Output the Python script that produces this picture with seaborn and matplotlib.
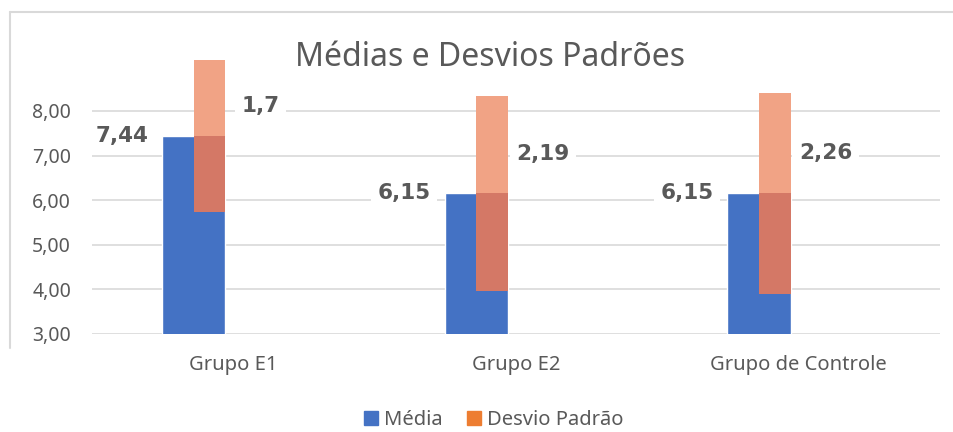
import matplotlib
matplotlib.use("Agg")
import matplotlib.pyplot as plt
from matplotlib.lines import Line2D
from matplotlib.patches import Patch
import numpy as np
import seaborn as sns

# values
grupos = ["Grupo E1", "Grupo E2", "Grupo de Controle"]
medias = [7.44, 6.15, 6.15]
desvios = [1.70, 2.19, 2.26]
rotulos_media = ["7,44", "6,15", "6,15"]
rotulos_desvio = ["1,7", "2,19", "2,26"]
y_ticks = [3, 4, 5, 6, 7, 8]
y_tick_labels = ["3,00", "4,00", "5,00", "6,00", "7,00", "8,00"]

AZUL = "#4472C4"
LARANJA = "#ED7D31"
LARANJA_CLARO = "#F1A385"
SOBREPOSTO = "#D47866"
CINZA = "#595959"
GRADE = "#D9D9D9"

sns.set_theme(style="white")
plt.rcParams["font.family"] = ["Noto Sans", "DejaVu Sans"]

fig = plt.figure(figsize=(9.54, 4.32), dpi=100)
ax = fig.add_axes([0.0964, 0.2269, 0.8889, 0.6806])

x = np.arange(len(grupos))
media_arr = np.array(medias)
desvio_arr = np.array(desvios)

largura = 0.2246
sns.barplot(x=grupos, y=medias, color=AZUL, saturation=1, width=largura,
            ax=ax, zorder=2)

# desvio bar sits on the right half of the mean bar: lower part overlaps
meia = largura / 2
ax.bar(x + meia / 2, desvio_arr, bottom=media_arr - desvio_arr, width=meia,
       color=SOBREPOSTO, zorder=3, linewidth=0)
ax.bar(x + meia / 2, desvio_arr, bottom=media_arr, width=meia,
       color=LARANJA_CLARO, zorder=3, linewidth=0)

caixa = dict(boxstyle="square,pad=0.3", fc="white", ec="none")
rotulo_kw = dict(ha="center", va="center", fontsize=15.5, fontweight="bold",
                 family="DejaVu Sans", color=CINZA, zorder=4, bbox=caixa)
for i in range(len(grupos)):
    ax.text(x[i] - 0.255, medias[i], rotulos_media[i], **rotulo_kw)
    ax.text(x[i] + 0.235, medias[i] + 0.4 * desvios[i], rotulos_desvio[i],
            **rotulo_kw)

ax.set_ylim(3, 9.59)
ax.set_xlim(-0.36, 2.64)
ax.set_yticks(y_ticks)
ax.set_yticklabels(y_tick_labels)
ax.set_xticks(x + 0.14)
ax.set_xticklabels(grupos)
ax.tick_params(axis="y", length=0, pad=15, labelsize=14, labelcolor=CINZA)
ax.tick_params(axis="x", length=0, pad=15, labelsize=14.5, labelcolor=CINZA)
ax.yaxis.grid(True, color=GRADE, linewidth=1.2, zorder=0)
ax.xaxis.grid(False)
ax.set_axisbelow(True)
ax.set_xlabel("")
ax.set_ylabel("")
for s in ax.spines.values():
    s.set_visible(False)

fig.text(490 / 954, 1 - 58 / 432, "Médias e Desvios Padrões", ha="center",
         va="center", fontsize=23, color=CINZA)

handles = [Patch(color=AZUL, label="Média"),
           Patch(color=LARANJA, label="Desvio Padrão")]
fig.legend(handles=handles, loc="center", bbox_to_anchor=(494 / 954, 0.028),
           ncol=2, frameon=False, fontsize=14.5, labelcolor=CINZA,
           handlelength=0.7, handleheight=0.7, handletextpad=0.3,
           columnspacing=1.2)

# chart area border (top and left edges visible in the crop)
fig.add_artist(Line2D([10 / 954, 1], [1 - 12 / 432, 1 - 12 / 432],
                      transform=fig.transFigure, color=GRADE, lw=1.5))
fig.add_artist(Line2D([10 / 954, 10 / 954], [1 - 12 / 432, 1 - 348 / 432],
                      transform=fig.transFigure, color=GRADE, lw=1.5))

fig.savefig("out.png", dpi=100)
